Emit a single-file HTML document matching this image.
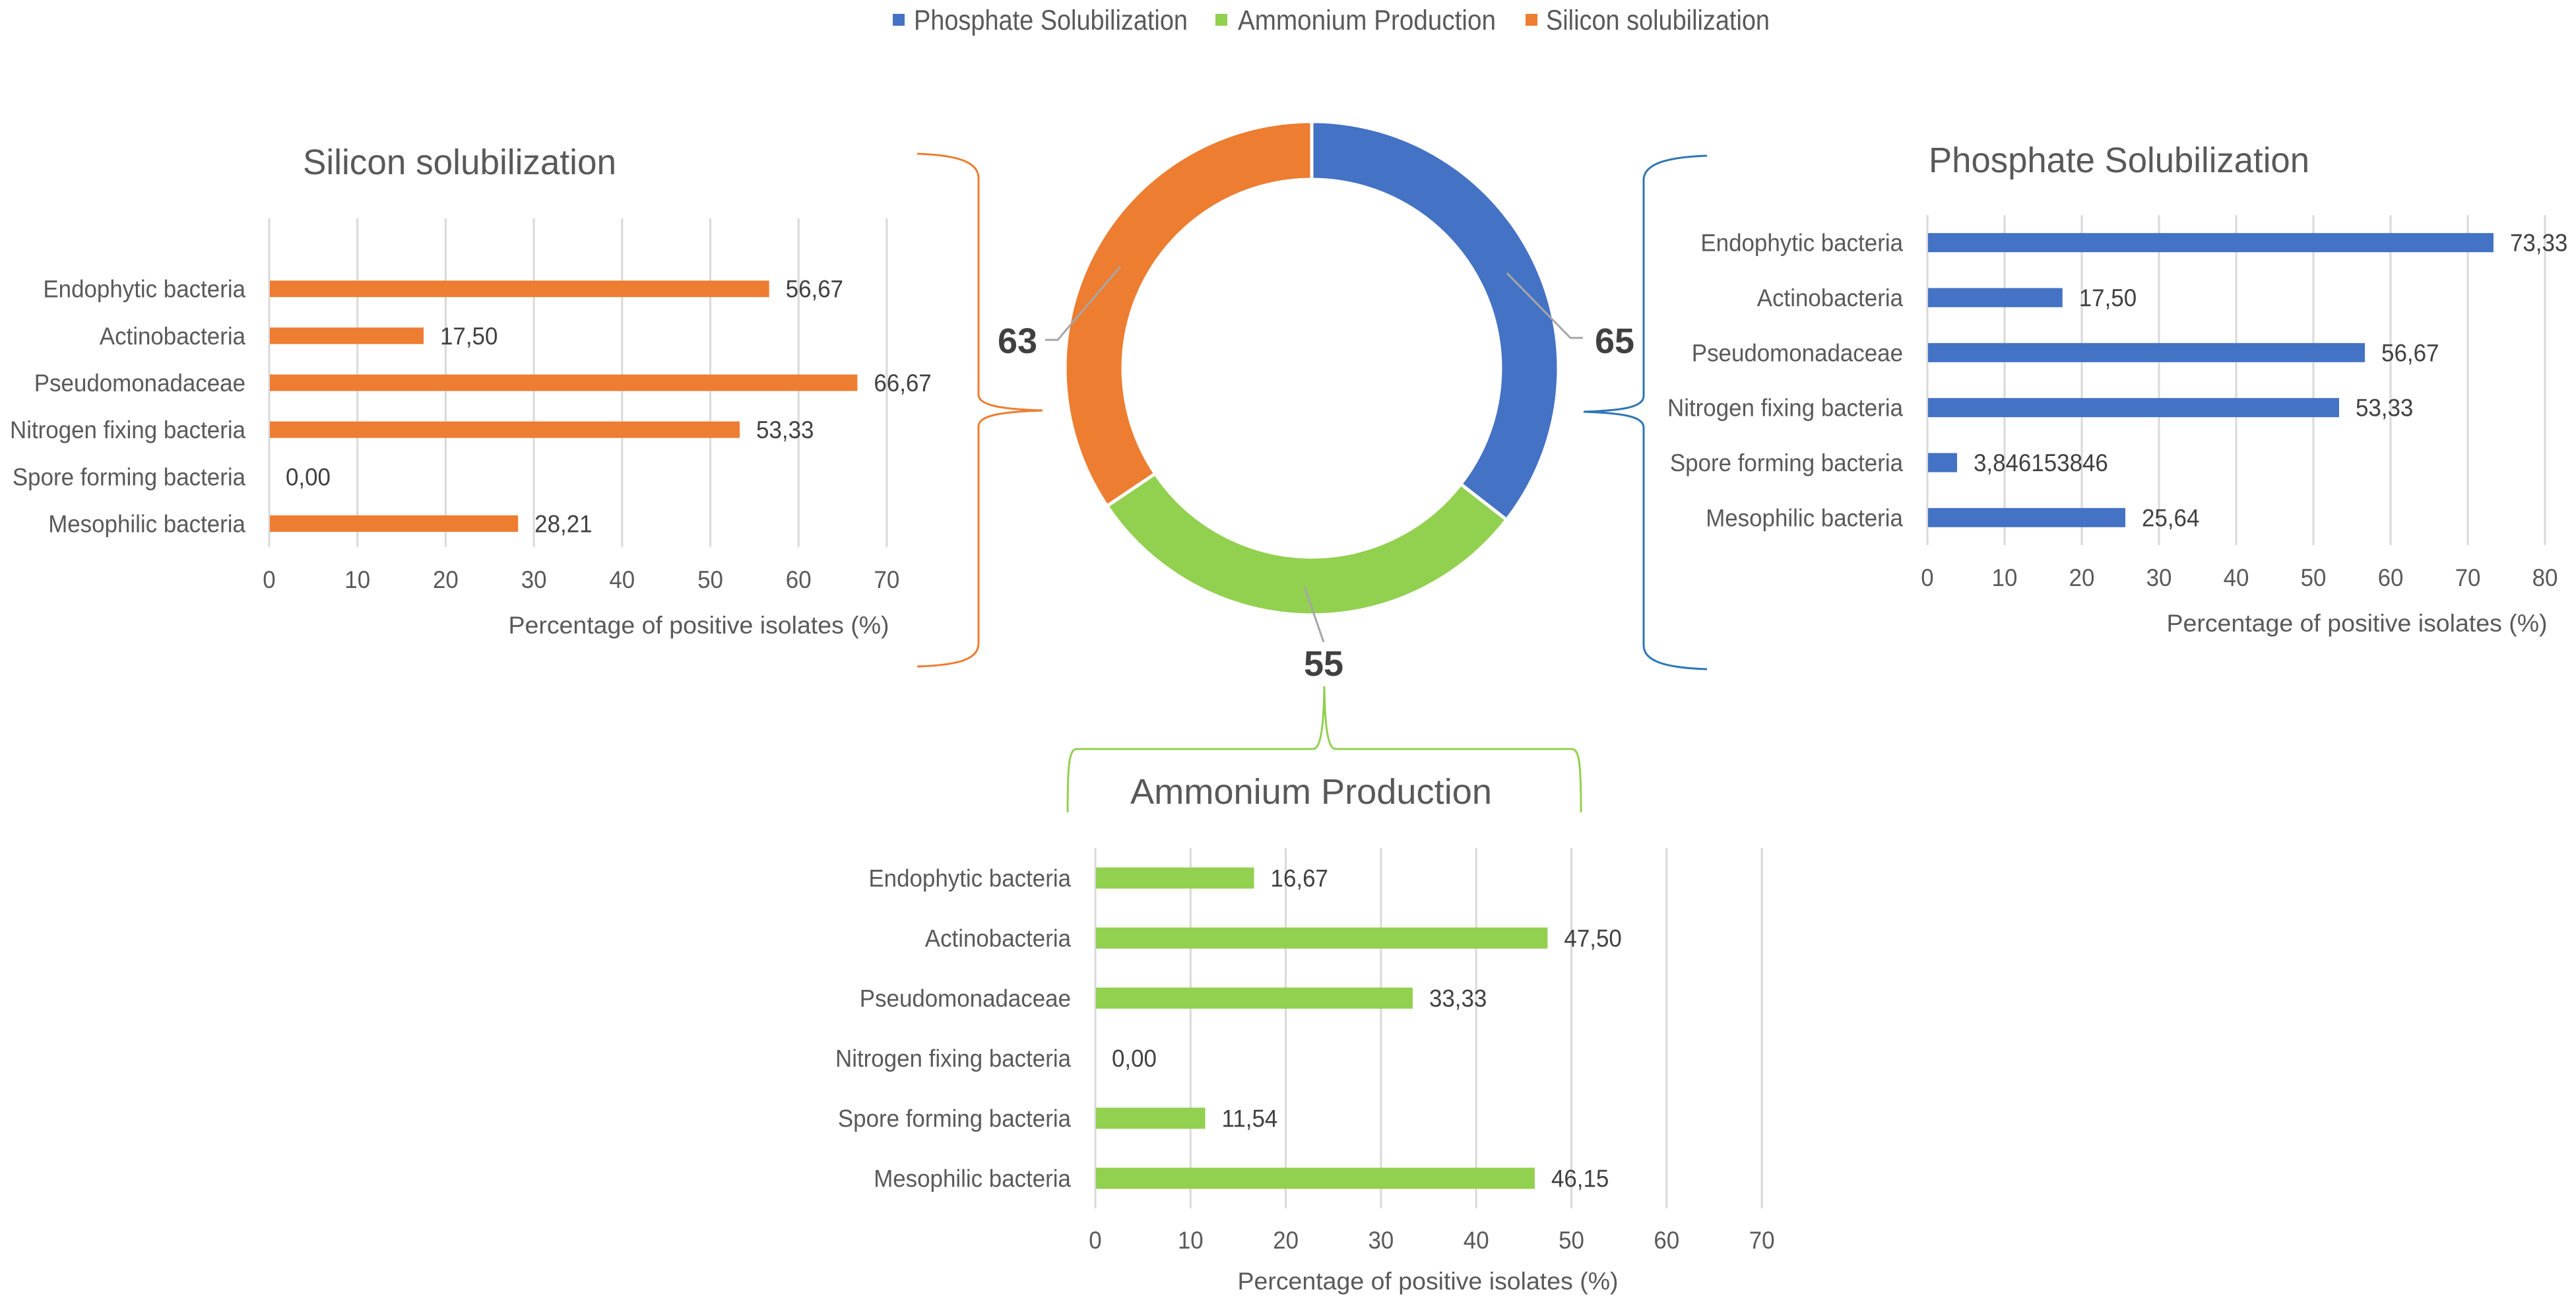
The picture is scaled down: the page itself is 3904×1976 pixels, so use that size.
<!DOCTYPE html>
<html><head><meta charset="utf-8"><style>
html,body{margin:0;padding:0;background:#fff;}
svg{display:block;font-family:"Liberation Sans",sans-serif;}
</style></head><body>
<svg id="fig" width="3904" height="1976" viewBox="0 0 3904 1976" xmlns="http://www.w3.org/2000/svg">
<rect width="3904" height="1976" fill="#fff"/>
<g id="legend">
  <g><rect x="1353" y="21" width="18" height="18" fill="#4472C4"/><text class="fit" data-w="415" x="1385" y="45" font-size="43" fill="#595959">Phosphate Solubilization</text></g>
  <g><rect x="1842" y="21" width="18" height="18" fill="#92D050"/><text class="fit" data-w="391" x="1876" y="45" font-size="43" fill="#595959">Ammonium Production</text></g>
  <g><rect x="2312" y="21" width="18" height="18" fill="#ED7D31"/><text class="fit" data-w="339" x="2343" y="45" font-size="43" fill="#595959">Silicon solubilization</text></g>
</g>
<g fill="none" stroke-width="3">
  <path stroke="#ED7D31" d="M1390 233 C1450 235 1483 245 1483 270 L1483 598 C1483 615 1520 620 1580 622 C1520 624 1483 629 1483 646 L1483 975 C1483 1000 1450 1008 1390 1010"/>
  <path stroke="#2E75B6" d="M2587 236 C2527 238 2491 248 2491 273 L2491 600 C2491 617 2460 622 2400 624 C2460 626 2491 631 2491 648 L2491 978 C2491 1003 2527 1012 2587 1014"/>
  <path stroke="#92D050" d="M1618 1231 C1618 1160 1620 1135 1632 1135 L1990 1135 C2002 1135 2006 1100 2007 1040 C2008 1100 2012 1135 2024 1135 L2382 1135 C2394 1135 2396 1160 2396 1231"/>
</g>
<g id="donut"></g>
<g id="charts"></g>
</svg>
<script>
// ---- data ----
const categories = ["Endophytic bacteria","Actinobacteria","Pseudomonadaceae","Nitrogen fixing bacteria","Spore forming bacteria","Mesophilic bacteria"];
const siliconValues = [56.67, 17.50, 66.67, 53.33, 0.00, 28.21];
const siliconLabels = ["56,67","17,50","66,67","53,33","0,00","28,21"];
const siliconTicks = [0,10,20,30,40,50,60,70];
const phosphateValues = [73.33, 17.50, 56.67, 53.33, 3.846153846, 25.64];
const phosphateLabels = ["73,33","17,50","56,67","53,33","3,846153846","25,64"];
const phosphateTicks = [0,10,20,30,40,50,60,70,80];
const ammoniumValues = [16.67, 47.50, 33.33, 0.00, 11.54, 46.15];
const ammoniumLabels = ["16,67","47,50","33,33","0,00","11,54","46,15"];
const ammoniumTicks = [0,10,20,30,40,50,60,70];
const donutNames = ["Phosphate Solubilization","Ammonium Production","Silicon solubilization"];
const donutValues = [65, 55, 63];

const NS = "http://www.w3.org/2000/svg";
function mk(tag, attrs, parent){ const e=document.createElementNS(NS,tag); for(const k in attrs) e.setAttribute(k,attrs[k]); if(parent) parent.appendChild(e); return e; }
const TXT="#595959";
const FS=37;

const probe = mk("text",{x:0,y:-100,"font-size":FS},document.getElementById("fig"));
probe.textContent="Nitrogen fixing bacteria";
const RATIO = 357/probe.getComputedTextLength();
probe.remove();
function narrow(t){ const L=t.getComputedTextLength(); if(L>0){ t.setAttribute("textLength",(L*RATIO).toFixed(1)); t.setAttribute("lengthAdjust","spacingAndGlyphs"); } }

function barChart(cfg, values, labels, ticks, color){
  const g = mk("g",{},document.getElementById("charts"));
  
  
  const xs = v => cfg.x0 + v*cfg.unit;
  const band = (cfg.bottom-cfg.top)/cfg.nBands;
  const ys = i => cfg.top + (i + cfg.offset + 0.5)*band;
  ticks.forEach(t=>{
    const l = mk("line",{x1:xs(t),x2:xs(t),y1:cfg.top,y2:cfg.bottom,stroke:"#D9D9D9","stroke-width":3},g);
    
    
    const tt = mk("text",{x:xs(t),y:cfg.tickY+13,"font-size":FS,"text-anchor":"middle",fill:TXT},g);
    
    
    tt.textContent = t; narrow(tt);
  });
  categories.forEach((c,i)=>{
    const y = ys(i);
    const cl = mk("text",{x:cfg.labelRight,y:y+13,"font-size":FS,"text-anchor":"end",fill:TXT},g);
    
    
    cl.textContent = c; narrow(cl);
    const w = xs(values[i]) - xs(0);
    const b = mk("rect",{x:xs(0)+1,y:y-cfg.barH/2,width:Math.max(0,w-1),height:cfg.barH,fill:color},g);
    
    
    const vl = mk("text",{x:xs(values[i])+25,y:y+13,"font-size":FS,fill:"#404040"},g);
    
    
    vl.textContent = labels[i]; narrow(vl);
  });
  const ti = mk("text",{x:cfg.titleX,y:cfg.titleY+19,"font-size":54,fill:TXT,textLength:cfg.titleW,lengthAdjust:"spacingAndGlyphs"},g);
  
  
  ti.textContent = cfg.title;
  const at = mk("text",{x:cfg.axX,y:cfg.axY+13,"font-size":FS,"text-anchor":"middle",fill:TXT,textLength:577,lengthAdjust:"spacingAndGlyphs"},g);
  
  
  at.textContent = "Percentage of positive isolates (%)";
}

barChart({name:"silicon-bar-chart",x0:408,unit:13.37,top:331,bottom:829,nBands:7,offset:1,barH:25,labelRight:372,tickY:878,axX:1059,axY:947,title:"Silicon solubilization",titleX:459,titleY:245,titleW:475}, siliconValues, siliconLabels, siliconTicks, "#ED7D31");
barChart({name:"phosphate-bar-chart",x0:2921,unit:11.7,top:326,bottom:826,nBands:6,offset:0,barH:29,labelRight:2884,tickY:875,axX:3572,axY:944,title:"Phosphate Solubilization",titleX:2923,titleY:242,titleW:577}, phosphateValues, phosphateLabels, phosphateTicks, "#4472C4");
barChart({name:"ammonium-bar-chart",x0:1660,unit:14.43,top:1285,bottom:1831,nBands:6,offset:0,barH:32,labelRight:1623,tickY:1879,axX:2164,axY:1941,title:"Ammonium Production",titleX:1713,titleY:1199,titleW:548}, ammoniumValues, ammoniumLabels, ammoniumTicks, "#92D050");

(function(){
  const d = document.getElementById("donut");
  const cx=1988, cy=558, R=374, r=286;
  const colors=["#4472C4","#92D050","#ED7D31"];
  const total = donutValues.reduce((a,b)=>a+b,0);
  let a0 = 0;
  const pt=(a,rad)=>[cx+rad*Math.sin(a), cy-rad*Math.cos(a)];
  donutValues.forEach((v,i)=>{
    const a1 = a0 + v/total*2*Math.PI;
    const large = (a1-a0)>Math.PI?1:0;
    const p1=pt(a0,R),p2=pt(a1,R),p3=pt(a1,r),p4=pt(a0,r);
    const p = mk("path",{d:`M${p1} A${R} ${R} 0 ${large} 1 ${p2} L${p3} A${r} ${r} 0 ${large} 0 ${p4}Z`,fill:colors[i],stroke:"#fff","stroke-width":5},d);
    
    
    a0 = a1;
  });
  const leaders=[["2284,414 2380,512 2399,512"],["1977,889 2006,973"],["1698,404 1603,515 1584,515"]];
  const labelPos=[[2447,516],[2006,1005],[1542,516]];
  donutValues.forEach((v,i)=>{
    const l = mk("polyline",{points:leaders[i][0],fill:"none",stroke:"#A6A6A6","stroke-width":3},d);
    
    
    const t = mk("text",{x:labelPos[i][0],y:labelPos[i][1]+19,"font-size":54,"font-weight":"bold","text-anchor":"middle",fill:"#404040"},d);
    
    
    t.textContent = v;
  });
})();

document.querySelectorAll("text.fit").forEach(t=>{ t.setAttribute("textLength",t.getAttribute("data-w")); t.setAttribute("lengthAdjust","spacingAndGlyphs"); });
</script>
</body></html>
